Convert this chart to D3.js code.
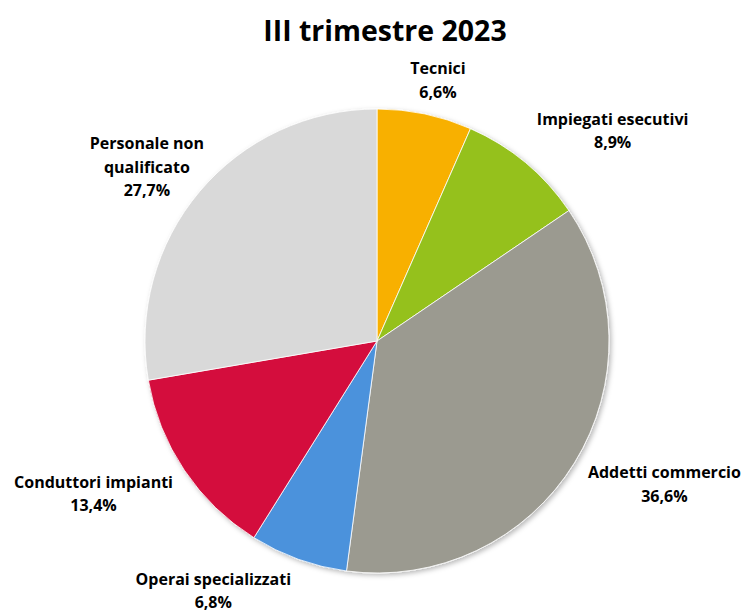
<!DOCTYPE html>
<html><head><meta charset="utf-8">
<script src="https://cdn.jsdelivr.net/npm/d3@7"></script>
<style>body{margin:0;background:#fff}svg{display:block}</style>
</head><body><svg id="c" width="751" height="614"></svg>
<script>
const title = "III trimestre 2023";
const categories = ["Tecnici","Impiegati esecutivi","Addetti commercio","Operai specializzati","Conduttori impianti","Personale non qualificato"];
const values = [6.6, 8.9, 36.6, 6.8, 13.4, 27.7];
const labelLines = [["Tecnici"],["Impiegati esecutivi"],["Addetti commercio"],["Operai specializzati"],["Conduttori impianti"],["Personale non","qualificato"]];
const colors = ["#F8B000","#95C11F","#9B9A90","#4C92DC","#D4103E","#D9D9D9"];
// small label nudges (layout only)
const nudges = [[-6,0],[5,0],[5,-7],[-4,-1],[-3,-5],[12,18]];

const W=751,H=614, cx=377, cy=341, R=232;
const FONT="'Open Sans', Lato, sans-serif";
const svg=d3.select("#c");
const defs=svg.append("defs");
const f=defs.append("filter").attr("id","sh").attr("x","-20%").attr("y","-20%").attr("width","140%").attr("height","140%");
f.append("feDropShadow").attr("dx",2).attr("dy",2).attr("stdDeviation",2.5).attr("flood-color","#000").attr("flood-opacity",0.28);

svg.append("text").attr("x",385).attr("y",41).attr("text-anchor","middle")
  .attr("font-family",FONT).attr("font-weight","bold").attr("font-size",28.5).attr("fill","#000").text(title);

const pie=d3.pie().sort(null).value(d=>d);
const arcs=pie(values);
const arc=d3.arc().innerRadius(0).outerRadius(R);
const g=svg.append("g").attr("transform",`translate(${cx},${cy})`);
g.append("g").attr("filter","url(#sh)").selectAll("path").data(arcs).join("path")
  .attr("d",arc).attr("fill",(d,i)=>colors[i]).attr("stroke","#fff").attr("stroke-width",0.8);

const fmt=v=>d3.format(".1f")(v).replace(".",",")+"%";
const lh=23.5, gap=10;
arcs.forEach((d,i)=>{
  const a=(d.startAngle+d.endAngle)/2;
  const sx=Math.sin(a), sy=-Math.cos(a);
  const px=(R+gap)*sx, py=(R+gap)*sy;
  const lines=labelLines[i].concat([fmt(values[i])]);
  const t=g.append("text").attr("text-anchor","middle")
    .attr("font-family",FONT).attr("font-weight","bold").attr("font-size",16).attr("fill","#000");
  lines.forEach((l,k)=>t.append("tspan").attr("x",0).attr("dy",k?lh:0).text(l));
  let w=0; t.selectAll("tspan").each(function(){w=Math.max(w,this.getComputedTextLength());});
  const h=lines.length*lh;
  const fx=Math.max(-1,Math.min(1,sx*3)), fy=Math.max(-1,Math.min(1,sy*2));
  const bx=px+fx*w/2+nudges[i][0], by=py+fy*h/2+nudges[i][1];
  const top=by-h/2;
  t.attr("transform",`translate(${bx},${top+lh*0.72})`);
});
</script></body></html>
